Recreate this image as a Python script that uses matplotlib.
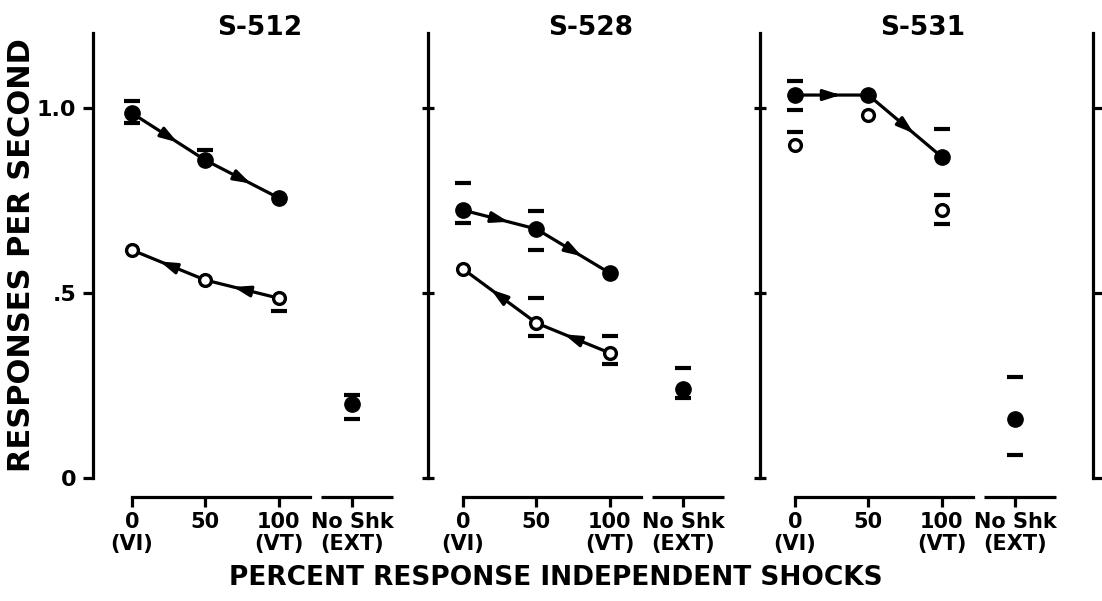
import matplotlib
matplotlib.use("Agg")
import matplotlib.pyplot as plt

# ---------------- data ----------------
condition_labels = ["0\n(VI)", "50", "100\n(VT)", "No Shk\n(EXT)"]
condition_x = [0, 50, 100, 150]
subjects = ["S-512", "S-528", "S-531"]

# filled circles (connected, arrows pointing right)
filled_512 = [0.986, 0.859, 0.757]
filled_528 = [0.724, 0.673, 0.554]
filled_531 = [1.035, 1.035, 0.868]
# open circles (connected with arrows pointing left, except S-531)
open_512 = [0.616, 0.535, 0.486]
open_528 = [0.565, 0.419, 0.338]
open_531 = [0.900, 0.981, 0.724]
open_connected = [True, True, False]
# extinction (No Shk) points
ext_values = [0.200, 0.241, 0.160]

# range caps (horizontal bars) per condition
filled_caps_512 = [[1.019, 0.959], [0.886], []]
filled_caps_528 = [[0.797, 0.689], [0.722, 0.616], []]
filled_caps_531 = [[1.073, 0.995], [], [0.943]]
open_caps_512 = [[], [], [0.451]]
open_caps_528 = [[], [0.486, 0.384], [0.384, 0.308]]
open_caps_531 = [[0.935], [], [0.765, 0.686]]
ext_caps = [[0.225, 0.160], [0.296, 0.215], [0.272, 0.063]]

y_ticks = [0, 0.5, 1.0]
y_ticklabels = ["0", ".5", "1.0"]

filled_all = [filled_512, filled_528, filled_531]
open_all = [open_512, open_528, open_531]
filled_caps_all = [filled_caps_512, filled_caps_528, filled_caps_531]
open_caps_all = [open_caps_512, open_caps_528, open_caps_531]

# ---------------- layout ----------------
W, H = 1102, 601
fig = plt.figure(figsize=(W / 100, H / 100), dpi=100)
FONT = dict(family="DejaVu Sans", weight="bold")

PXU = 1.467            # pixels per x unit
axis_px = [93, 428, 760, 1093]
zero_px = [132, 463, 795, 1130]
bottom_px, top_px, y0_px, pyu = 497, 33, 478, 370.0
ax_w_px = 330
LW = 2.3


def arrowheads(ax, xs, ys, pointing_right):
    for i in range(len(xs) - 1):
        x0, y0, x1, y1 = xs[i], ys[i], xs[i + 1], ys[i + 1]
        if pointing_right:
            t_tip, t_tail = 0.62, 0.50
        else:
            t_tip, t_tail = 0.38, 0.50
        tip = (x0 + t_tip * (x1 - x0), y0 + t_tip * (y1 - y0))
        tail = (x0 + t_tail * (x1 - x0), y0 + t_tail * (y1 - y0))
        ax.annotate("", xy=tip, xytext=tail,
                    arrowprops=dict(arrowstyle="-|>,head_length=0.5,head_width=0.16",
                                    color="black", lw=LW, shrinkA=0, shrinkB=0,
                                    mutation_scale=20), zorder=4)


def caps(ax, x, values):
    for v in values:
        ax.plot([x], [v], marker="_", markersize=11, mew=3.0, color="black",
                linestyle="none", zorder=5, clip_on=False)


for i in range(4):
    left = axis_px[i] / W
    ax = fig.add_axes([left, (H - bottom_px) / H, ax_w_px / W, (bottom_px - top_px) / H])
    ax.patch.set_visible(False)
    xl = -(zero_px[i] - axis_px[i]) / PXU
    ax.set_xlim(xl, xl + ax_w_px / PXU)
    ylo, yhi = (y0_px - bottom_px) / pyu, (y0_px - top_px) / pyu
    ax.set_ylim(ylo, yhi)
    for s in ["top", "right", "bottom"]:
        ax.spines[s].set_visible(False)
    ax.spines["left"].set_bounds(0, yhi)
    ax.spines["left"].set_linewidth(LW)
    ax.set_yticks(y_ticks)
    if i == 0:
        ax.set_yticklabels(y_ticklabels, fontsize=16, **FONT)
        ax.tick_params(axis="y", direction="out", length=7, width=LW, pad=5)
    elif i < 3:
        ax.set_yticklabels([])
        ax.tick_params(axis="y", direction="inout", length=9, width=LW)
    else:
        ax.set_yticklabels([])
        ax.tick_params(axis="y", direction="in", length=7, width=LW)

    if i == 3:
        ax.set_xticks([])
        continue

    # x axis: two separated segments
    tr = ax.get_xaxis_transform()
    ax.plot([0, 121], [0, 0], transform=tr, color="black", lw=LW,
            clip_on=False, solid_capstyle="projecting")
    ax.plot([129, 178], [0, 0], transform=tr, color="black", lw=LW,
            clip_on=False, solid_capstyle="butt")
    ax.set_xticks(condition_x)
    ax.set_xticklabels(condition_labels, fontsize=15, linespacing=1.1, **FONT)
    ax.tick_params(axis="x", direction="out", length=7, width=LW, pad=4)

    # title
    ax.text(87, (y0_px - 28) / pyu, subjects[i], ha="center", va="center",
            fontsize=19, clip_on=False, **FONT)

    xs = condition_x[:3]
    fy = filled_all[i]
    oy = open_all[i]
    # filled series
    ax.plot(xs, fy, color="black", lw=LW, zorder=3)
    arrowheads(ax, xs, fy, True)
    ax.plot(xs, fy, linestyle="none", marker="o", markersize=11,
            markerfacecolor="black", markeredgecolor="black", zorder=6)
    # open series
    if open_connected[i]:
        ax.plot(xs, oy, color="black", lw=LW, zorder=3)
        arrowheads(ax, xs, oy, False)
    ax.plot(xs, oy, linestyle="none", marker="o", markersize=8.5, mew=2.4,
            markerfacecolor="white", markeredgecolor="black", zorder=6)
    for j in range(3):
        caps(ax, xs[j], filled_caps_all[i][j])
        caps(ax, xs[j], open_caps_all[i][j])
    # extinction point
    ax.plot([condition_x[3]], [ext_values[i]], linestyle="none", marker="o",
            markersize=11, color="black", zorder=6)
    caps(ax, condition_x[3], ext_caps[i])

fig.text(22 / W, 1 - 255 / H, "RESPONSES PER SECOND", rotation=90,
         ha="center", va="center", fontsize=22, **FONT)
fig.text(556 / W, 1 - 578 / H, "PERCENT RESPONSE INDEPENDENT SHOCKS",
         ha="center", va="center", fontsize=19, **FONT)

fig.savefig("out.png", dpi=100)
